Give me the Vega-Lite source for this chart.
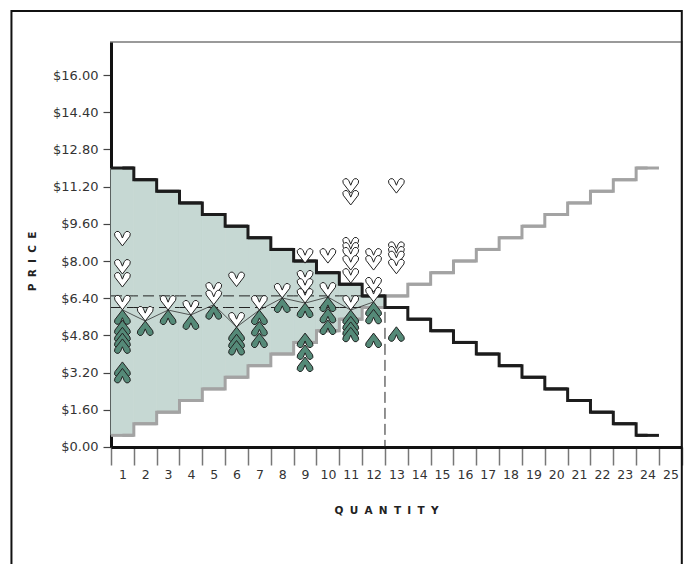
{
  "$schema": "https://vega.github.io/schema/vega-lite/v6.json",
  "width": 570.8,
  "height": 405,
  "autosize": {"type": "none"},
  "padding": {"left": 111, "top": 42, "right": 3, "bottom": 117},
  "background": "white",
  "config": {"view": {"stroke": "#9a9a9a", "strokeWidth": 2}, "font": "DejaVu Sans"},
  "datasets": {
    "curve": [
      {"q": 1, "demand": 12, "supply": 0.5}, {"q": 2, "demand": 11.5, "supply": 1},
      {"q": 3, "demand": 11, "supply": 1.5}, {"q": 4, "demand": 10.5, "supply": 2},
      {"q": 5, "demand": 10, "supply": 2.5}, {"q": 6, "demand": 9.5, "supply": 3},
      {"q": 7, "demand": 9, "supply": 3.5}, {"q": 8, "demand": 8.5, "supply": 4},
      {"q": 9, "demand": 8, "supply": 4.5}, {"q": 10, "demand": 7.5, "supply": 5},
      {"q": 11, "demand": 7, "supply": 5.5}, {"q": 12, "demand": 6.5, "supply": 6},
      {"q": 13, "demand": 6, "supply": 6.5}, {"q": 14, "demand": 5.5, "supply": 7},
      {"q": 15, "demand": 5, "supply": 7.5}, {"q": 16, "demand": 4.5, "supply": 8},
      {"q": 17, "demand": 4, "supply": 8.5}, {"q": 18, "demand": 3.5, "supply": 9},
      {"q": 19, "demand": 3, "supply": 9.5}, {"q": 20, "demand": 2.5, "supply": 10},
      {"q": 21, "demand": 2, "supply": 10.5}, {"q": 22, "demand": 1.5, "supply": 11},
      {"q": 23, "demand": 1, "supply": 11.5}, {"q": 24, "demand": 0.5, "supply": 12}
    ],
    "trades": [
      {"q": 1, "price": 5.9}, {"q": 2, "price": 5.42}, {"q": 3, "price": 5.89},
      {"q": 4, "price": 5.68}, {"q": 5, "price": 6.12}, {"q": 6, "price": 5.16},
      {"q": 7, "price": 5.89}, {"q": 8, "price": 6.41}, {"q": 9, "price": 6.19},
      {"q": 10, "price": 6.45}, {"q": 11, "price": 5.89}, {"q": 12, "price": 6.24}
    ],
    "quotes": [
      {"q": 1, "price": 8.65, "side": "ask"}, {"q": 1, "price": 7.44, "side": "ask"},
      {"q": 1, "price": 6.88, "side": "ask"}, {"q": 1, "price": 5.9, "side": "ask"},
      {"q": 1, "price": 5.9, "side": "bid"}, {"q": 1, "price": 5.45, "side": "bid"},
      {"q": 1, "price": 5.15, "side": "bid"}, {"q": 1, "price": 4.9, "side": "bid"},
      {"q": 1, "price": 4.65, "side": "bid"}, {"q": 1, "price": 3.66, "side": "bid"},
      {"q": 1, "price": 3.38, "side": "bid"},
      {"q": 2, "price": 5.42, "side": "ask"}, {"q": 2, "price": 5.42, "side": "bid"},
      {"q": 3, "price": 5.89, "side": "ask"}, {"q": 3, "price": 5.89, "side": "bid"},
      {"q": 4, "price": 5.68, "side": "ask"}, {"q": 4, "price": 5.68, "side": "bid"},
      {"q": 5, "price": 6.45, "side": "ask"}, {"q": 5, "price": 6.12, "side": "ask"},
      {"q": 5, "price": 6.12, "side": "bid"},
      {"q": 6, "price": 6.9, "side": "ask"}, {"q": 6, "price": 5.16, "side": "ask"},
      {"q": 6, "price": 5.16, "side": "bid"}, {"q": 6, "price": 4.85, "side": "bid"},
      {"q": 6, "price": 4.58, "side": "bid"},
      {"q": 7, "price": 5.89, "side": "ask"}, {"q": 7, "price": 5.89, "side": "bid"},
      {"q": 7, "price": 5.4, "side": "bid"}, {"q": 7, "price": 4.9, "side": "bid"},
      {"q": 8, "price": 6.41, "side": "ask"}, {"q": 8, "price": 6.41, "side": "bid"},
      {"q": 9, "price": 7.91, "side": "ask"}, {"q": 9, "price": 6.97, "side": "ask"},
      {"q": 9, "price": 6.62, "side": "ask"}, {"q": 9, "price": 6.19, "side": "ask"},
      {"q": 9, "price": 6.19, "side": "bid"}, {"q": 9, "price": 4.9, "side": "bid"},
      {"q": 9, "price": 4.39, "side": "bid"}, {"q": 9, "price": 3.87, "side": "bid"},
      {"q": 10, "price": 7.91, "side": "ask"}, {"q": 10, "price": 6.45, "side": "ask"},
      {"q": 10, "price": 6.45, "side": "bid"}, {"q": 10, "price": 5.96, "side": "bid"},
      {"q": 10, "price": 5.46, "side": "bid"},
      {"q": 11, "price": 10.92, "side": "ask"}, {"q": 11, "price": 10.41, "side": "ask"},
      {"q": 11, "price": 8.39, "side": "ask"}, {"q": 11, "price": 8.17, "side": "ask"},
      {"q": 11, "price": 7.96, "side": "ask"}, {"q": 11, "price": 7.61, "side": "ask"},
      {"q": 11, "price": 7.05, "side": "ask"}, {"q": 11, "price": 5.89, "side": "ask"},
      {"q": 11, "price": 5.89, "side": "bid"}, {"q": 11, "price": 5.62, "side": "bid"},
      {"q": 11, "price": 5.38, "side": "bid"}, {"q": 11, "price": 5.15, "side": "bid"},
      {"q": 12, "price": 7.91, "side": "ask"}, {"q": 12, "price": 7.61, "side": "ask"},
      {"q": 12, "price": 6.67, "side": "ask"}, {"q": 12, "price": 6.24, "side": "ask"},
      {"q": 12, "price": 6.24, "side": "bid"}, {"q": 12, "price": 5.92, "side": "bid"},
      {"q": 12, "price": 4.9, "side": "bid"},
      {"q": 13, "price": 10.92, "side": "ask"}, {"q": 13, "price": 8.2, "side": "ask"},
      {"q": 13, "price": 8.0, "side": "ask"}, {"q": 13, "price": 7.8, "side": "ask"},
      {"q": 13, "price": 7.45, "side": "ask"}, {"q": 13, "price": 5.17, "side": "bid"}
    ]
  },
  "layer": [
    {
      "layer": [
        {
          "data": {"name": "curve"},
          "transform": [{"filter": "datum.q <= 12"}],
          "mark": {"type": "bar", "color": "#c6d8d3", "stroke": "#c6d8d3", "strokeWidth": 0.8, "opacity": 1},
          "encoding": {
            "x": {
              "field": "q", "type": "ordinal",
              "scale": {"type": "band", "domain": [1,2,3,4,5,6,7,8,9,10,11,12,13,14,15,16,17,18,19,20,21,22,23,24,25], "paddingInner": 0, "paddingOuter": 0},
              "axis": {
                "title": "Q\u2002\u200aU\u2002\u200aA\u2002\u200aN\u2002\u200aT\u2002\u200aI\u2002\u200aT\u2002\u200aY",
                "tickBand": "extent", "tickSize": 18, "tickColor": "#777", "tickWidth": 1.5,
                "domainColor": "#111", "domainWidth": 3, "labelAngle": 0,
                "labelFontSize": 12.5, "labelColor": "#333", "labelPadding": 4, "grid": false,
                "titleFontSize": 10.5, "titleFontWeight": "bold", "titleColor": "#222",
                "titleX": 275, "titleY": 64, "titleBaseline": "middle"
              }
            },
            "y": {
              "field": "supply", "type": "quantitative",
              "scale": {"domain": [0, 17.42], "nice": false, "zero": true},
              "axis": {
                "title": "P\u2002\u200aR\u2002\u200aI\u2002\u200aC\u2002\u200aE",
                "values": [0, 1.6, 3.2, 4.8, 6.4, 8, 9.6, 11.2, 12.8, 14.4, 16],
                "format": "$.2f", "tickSize": 8, "tickColor": "#444", "tickWidth": 1.2,
                "domainColor": "#111", "domainWidth": 3, "labelFontSize": 13,
                "labelColor": "#333", "labelPadding": 5, "grid": false,
                "titleFontSize": 10.5, "titleFontWeight": "bold", "titleColor": "#222",
                "titleX": -78, "titleY": 219, "titleAngle": 270, "titleBaseline": "middle", "titleAlign": "center"
              }
            },
            "y2": {"field": "demand"}
          }
        },
        {
          "data": {"name": "curve"},
          "transform": [{"filter": "datum.q <= 13"}],
          "mark": {"type": "line", "color": "#222", "strokeWidth": 1, "strokeDash": [11, 5]},
          "encoding": {
            "x": {"field": "q", "type": "ordinal", "bandPosition": 0},
            "y": {"datum": 6.5, "type": "quantitative"}
          }
        },
        {
          "data": {"name": "curve"},
          "transform": [{"filter": "datum.q <= 13"}],
          "mark": {"type": "line", "color": "#222", "strokeWidth": 1, "strokeDash": [11, 5]},
          "encoding": {
            "x": {"field": "q", "type": "ordinal", "bandPosition": 0},
            "y": {"datum": 6.0, "type": "quantitative"}
          }
        },
        {
          "data": {"name": "curve"},
          "transform": [{"filter": "datum.q == 13"}],
          "mark": {"type": "rule", "color": "#222", "strokeWidth": 1, "strokeDash": [11, 5]},
          "encoding": {
            "x": {"field": "q", "type": "ordinal", "bandPosition": 0},
            "y": {"datum": 6.5, "type": "quantitative"},
            "y2": {"datum": 0}
          }
        },
        {
          "data": {"name": "curve"},
          "mark": {"type": "tick", "color": "#a3a3a3", "thickness": 3, "size": 22.83, "orient": "horizontal", "opacity": 1},
          "encoding": {
            "x": {"field": "q", "type": "ordinal"},
            "y": {"field": "supply", "type": "quantitative"}
          }
        },
        {
          "data": {"name": "curve"},
          "mark": {"type": "line", "color": "#a3a3a3", "strokeWidth": 3, "interpolate": "step"},
          "encoding": {
            "x": {"field": "q", "type": "ordinal"},
            "y": {"field": "supply", "type": "quantitative"}
          }
        },
        {
          "data": {"name": "curve"},
          "mark": {"type": "tick", "color": "#1c1c1c", "thickness": 3, "size": 22.83, "orient": "horizontal", "opacity": 1},
          "encoding": {
            "x": {"field": "q", "type": "ordinal"},
            "y": {"field": "demand", "type": "quantitative"}
          }
        },
        {
          "data": {"name": "curve"},
          "mark": {"type": "line", "color": "#1c1c1c", "strokeWidth": 3, "interpolate": "step"},
          "encoding": {
            "x": {"field": "q", "type": "ordinal"},
            "y": {"field": "demand", "type": "quantitative"}
          }
        },
        {
          "data": {"name": "trades"},
          "mark": {"type": "line", "color": "#333", "strokeWidth": 0.8},
          "encoding": {
            "x": {"field": "q", "type": "ordinal"},
            "y": {"field": "price", "type": "quantitative"}
          }
        },
        {
          "data": {"name": "quotes"},
          "mark": {"type": "point", "filled": true, "opacity": 1, "size": 225, "stroke": "#222", "strokeWidth": 1},
          "encoding": {
            "x": {"field": "q", "type": "ordinal"},
            "y": {"field": "price", "type": "quantitative"},
            "shape": {
              "field": "side", "type": "nominal", "legend": null,
              "scale": {"domain": ["ask", "bid"], "range": [
                "M0,0 L-1,-1.3 Q-1.2,-1.7 -0.8,-1.92 Q-0.45,-2.05 -0.25,-1.65 L0,-1.05 L0.25,-1.65 Q0.45,-2.05 0.8,-1.92 Q1.2,-1.7 1,-1.3 Z",
                "M0,0 L-1,1.3 Q-1.2,1.7 -0.8,1.92 Q-0.45,2.05 -0.25,1.65 L0,1.05 L0.25,1.65 Q0.45,2.05 0.8,1.92 Q1.2,1.7 1,1.3 Z"
              ]}
            },
            "fill": {
              "field": "side", "type": "nominal", "legend": null,
              "scale": {"domain": ["ask", "bid"], "range": ["#ffffff", "#558a78"]}
            }
          }
        }
      ]
    },
    {
      "data": {"values": [{"frame": 1}]},
      "mark": {"type": "rect", "filled": false, "stroke": "#111", "strokeWidth": 2, "clip": false},
      "encoding": {
        "x": {"datum": -4.36, "type": "quantitative", "scale": {"domain": [0, 25], "nice": false, "zero": false}, "axis": null},
        "x2": {"datum": 25},
        "y": {"datum": 18.75, "type": "quantitative"},
        "y2": {"datum": -6}
      }
    }
  ],
  "resolve": {"scale": {"x": "independent"}, "axis": {"x": "independent"}}
}
